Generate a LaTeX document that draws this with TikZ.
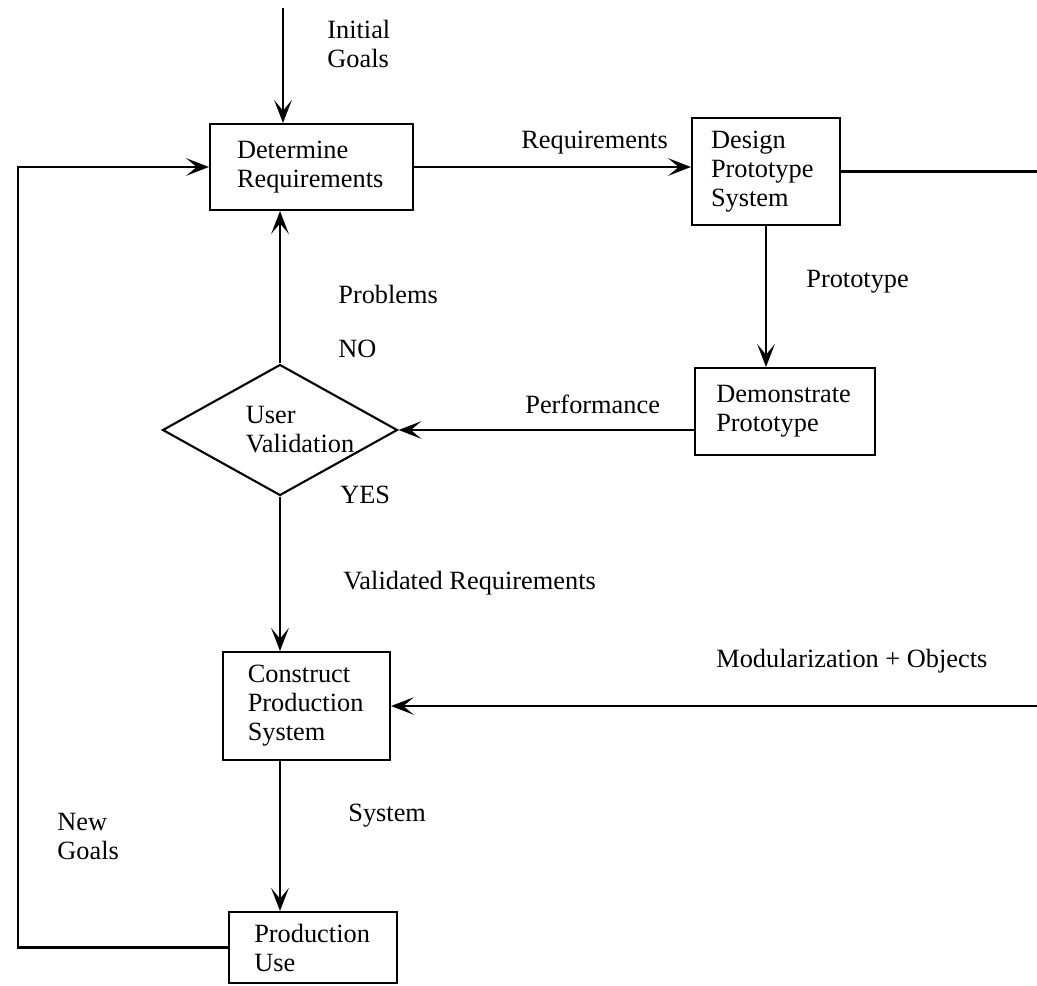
\documentclass[tikz,border=0pt]{standalone}
\usepackage{fontspec}
\setmainfont{Liberation Serif}
\usetikzlibrary{shapes.geometric,arrows.meta}

\tikzset{
  box/.style={draw, line width=1.2pt, align=left, inner sep=0pt},
  decision/.style={draw, line width=1.2pt, diamond, aspect=1.8, inner sep=0pt, align=left,
    minimum width=4.7cm, minimum height=2.62cm},
  flow/.style={line width=1.2pt, -{Stealth[length=13pt, width=10pt, inset=6pt]}},
  tag/.style={anchor=west, align=left, inner sep=0pt}
}

\begin{document}
\begin{tikzpicture}[x=0.02cm, y=-0.02cm, font=\fontsize{15}{16.5}\selectfont]

\useasboundingbox (0,0) rectangle (1037,985);

\coordinate (rim)  at (1037,0);
\coordinate (loop) at (18,0);
\coordinate (goalsin) at (283,8);

\node [box, minimum width=4.06cm, minimum height=1.72cm, text width=2.98cm] (determine) at (311.5,167) {Determine\\Requirements};
\node [box, minimum width=2.96cm, minimum height=2.14cm, text width=2.2cm] (design) at (766,171.5) {Design\\Prototype\\System};
\node [box, minimum width=3.6cm, minimum height=1.74cm, text width=2.75cm] (demo) at (785,411.5) {Demonstrate\\Prototype};
\node [decision] (valid) at (280,430) {\hspace*{0.8cm}User\\\hspace*{0.8cm}Validation};
\node [box, minimum width=3.34cm, minimum height=2.16cm, text width=2.35cm] (construct) at (306.5,706) {Construct\\Production\\System};
\node [box, minimum width=3.36cm, minimum height=1.42cm, text width=2.35cm] (produse) at (313,947.5) {Production\\Use};

\node [tag] (initgoals) at (327,44) {Initial\\Goals};
\node [tag] (reqs) at (521,143) {Requirements};
\node [tag] (proto) at (806,282) {Prototype};
\node [tag] (perf) at (525,404) {Performance};
\node [tag] (problems) at (338,294) {Problems};
\node [tag] (no) at (338,349) {NO};
\node [tag] (yes) at (340,495) {YES};
\node [tag] (validreqs) at (343,583) {Validated Requirements};
\node [tag] (modobj) at (716,661) {Modularization + Objects};
\node [tag] (system) at (348,816) {System};
\node [tag] (newgoals) at (57,836) {New\\Goals};

\begin{scope}[flow]
\draw (goalsin) -- (goalsin |- determine.north);
\draw (determine.east) -- (determine.east -| design.west);
\draw (design.south) -- (design.south |- demo.north);
\draw (demo.west |- valid.east) -- (valid.east);
\draw (valid.north) -- (valid.north |- determine.south);
\draw (valid.south) -- (valid.south |- construct.north);
\draw (construct.east -| rim) -- (construct.east);
\draw (valid.south |- construct.south) -- (valid.south |- produse.north);
\draw (produse.west) -- (produse.west -| loop) -- (loop |- determine.west) -- (determine.west);
\end{scope}

\draw [line width=1.2pt] (design.east) -- (design.east -| rim);

\end{tikzpicture}
\end{document}
